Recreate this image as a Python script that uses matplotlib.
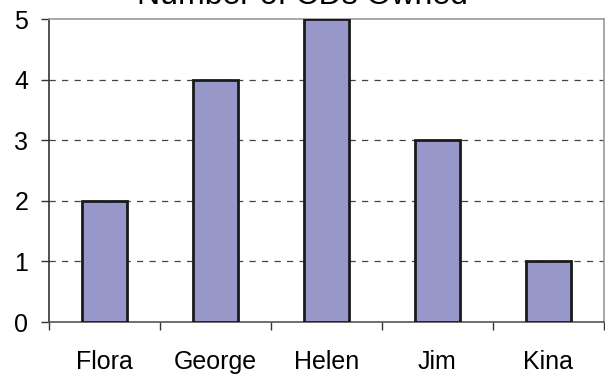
import numpy as np
import matplotlib
matplotlib.use('Agg')
import matplotlib.pyplot as plt

names = ['Flora', 'George', 'Helen', 'Jim', 'Kina']
cds_owned = [2, 4, 5, 3, 1]
y_ticks = [0, 1, 2, 3, 4, 5]

plt.rcParams['font.family'] = ['Liberation Sans', 'DejaVu Sans']

fig = plt.figure(figsize=(6.05, 3.75), dpi=100)
ax = fig.add_axes([0.081, 0.1413, 0.917, 0.808])

x = np.arange(len(names))
ax.bar(x, cds_owned, width=0.4, color='#9797c9', edgecolor='#1a1a1a',
       linewidth=2, zorder=3)

ax.set_xlim(-0.5, len(names) - 0.5)
ax.set_ylim(0, 5)
ax.set_yticks(y_ticks)
ax.set_yticklabels([str(v) for v in y_ticks], fontsize=18)

# category labels in the middle, tick marks on the boundaries
ax.set_xticks(x)
ax.set_xticklabels(names, fontsize=18)
ax.tick_params(axis='x', which='major', length=0, pad=20)
ax.set_xticks(np.arange(-0.5, len(names)), minor=True)
ax.tick_params(axis='x', which='minor', length=6, width=1, color='#333333',
               direction='out')
ax.tick_params(axis='y', length=6, width=1, color='#333333', pad=9,
               direction='out')

for v in y_ticks[1:-1]:
    ax.axhline(v, color='#444444', linewidth=0.9, linestyle=(0, (5, 5)),
               zorder=1)

ax.spines['left'].set_color('#333333')
ax.spines['bottom'].set_color('#555555')
ax.spines['top'].set_color('#999999')
ax.spines['right'].set_color('#999999')
for s in ax.spines.values():
    s.set_linewidth(1.2)

fig.text(0.5, 1 - 4 / 375, 'Number of CDs Owned', ha='center',
         va='baseline', fontsize=23)

fig.savefig('out.png', dpi=100)
